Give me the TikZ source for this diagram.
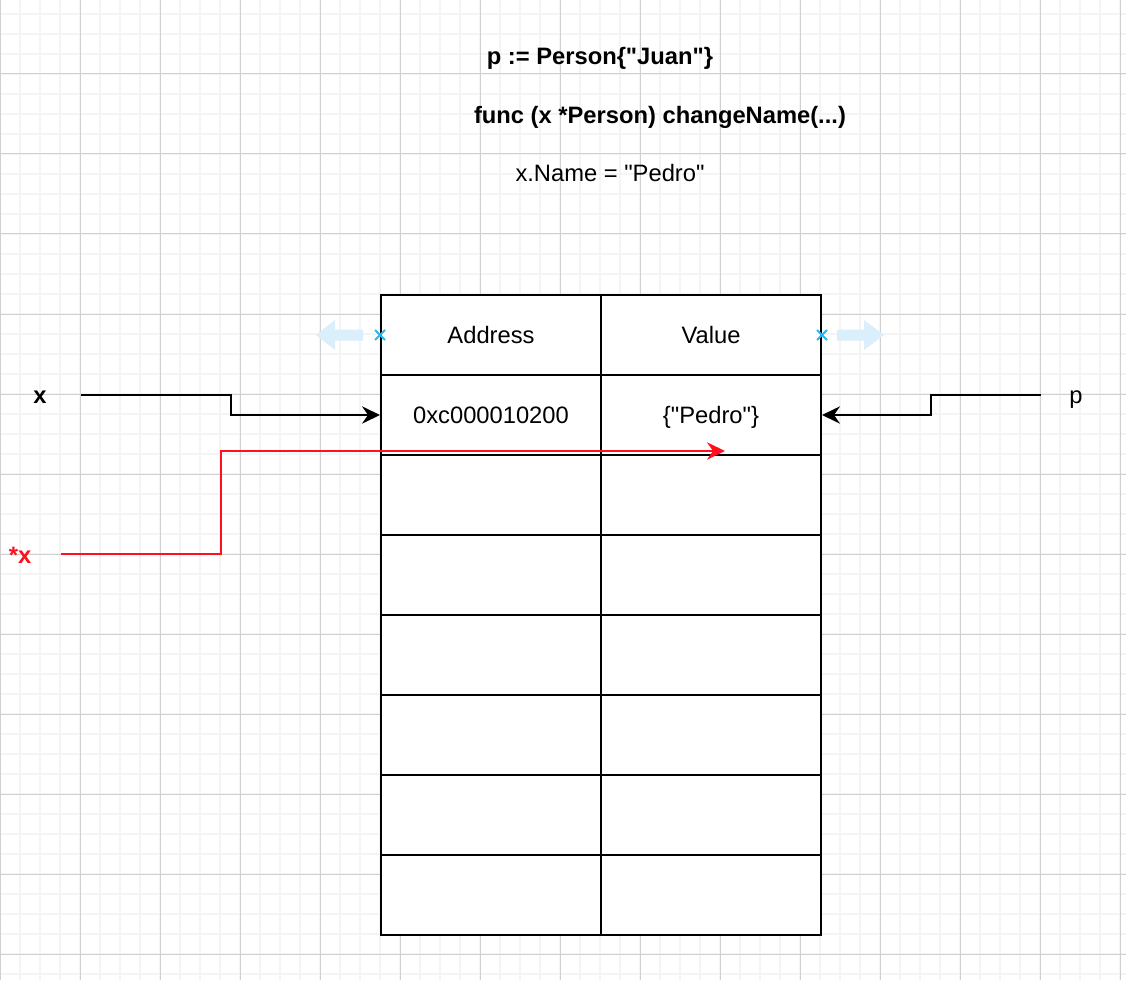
\documentclass[tikz,border=0pt]{standalone}
\usepackage{fontspec}
\setmainfont{Liberation Sans}[Ligatures=TeXOff]
\usetikzlibrary{arrows.meta}
\definecolor{gridminor}{HTML}{F4F4F4}
\definecolor{gridmajor}{HTML}{D0D0D0}
\definecolor{ptrred}{HTML}{FF1020}
\definecolor{hintblue}{HTML}{29B6F2}
\definecolor{hintfill}{HTML}{DAEEFB}
\newcommand{\diagfont}{\fontsize{17.8pt}{21pt}\selectfont}

\begin{document}
\begin{tikzpicture}[x=0.75pt,y=-0.75pt,
		cell/.style={draw, fill=white, line width=1.5pt, minimum width=165pt, minimum height=60pt,
			inner sep=0pt, font=\diagfont, text height=12.8pt, text depth=0pt},
		varlbl/.style={anchor=base, inner sep=0pt, font=\diagfont},
		conn/.style={line width=1.5pt, -{Stealth[length=13.5pt,width=13pt,inset=4.5pt]}},
	]
		\useasboundingbox (0,0) rectangle (1126,980);
		\fill[white] (0,0) rectangle (1126,980);
		
		% background grid
		\foreach \gx in {0,20,...,1120} \draw[gridminor, line width=1.5pt] (\gx,0) -- (\gx,980);
		\foreach \gy in {14,34,...,974} \draw[gridminor, line width=1.5pt] (0,\gy) -- (1126,\gy);
		\foreach \gx in {0,80,...,1120} \draw[gridmajor, line width=0.75pt] (\gx,0) -- (\gx,980);
		\foreach \gy in {74,154,...,954} \draw[gridmajor, line width=0.75pt] (0,\gy) -- (1126,\gy);
		
		% code lines
		\node[varlbl, font=\diagfont\bfseries] (decl) at (600,65) {p := Person\{"Juan"\}};
		\node[varlbl, font=\diagfont\bfseries] (method) at (660,124) {func (x *Person) changeName(...)};
		\node[varlbl] (assign) at (610,182) {x.Name = "Pedro"};
		
		% memory table
		\node[cell] (addr) at (491,335) {Address};
		\node[cell] (val) at (711,335) {Value};
		\node[cell] (addr1) at (491,415) {0xc000010200};
		\node[cell] (val1) at (711,415) {\{"Pedro"\}};
		\foreach \row in {2,...,7} {
			\node[cell] (addr\row) at (491,335+80*\row) {};
			\node[cell] (val\row) at (711,335+80*\row) {};
		}
		
		% selection hints (drawn faintly)
		\fill[hintfill] (316,335) -- (335,320) -- (335,329.5) -- (363,329.5) -- (363,340.5)
			-- (335,340.5) -- (335,350) -- cycle;
		\fill[hintfill] (884,335) -- (864,320) -- (864,329.5) -- (837,329.5) -- (837,340.5)
			-- (864,340.5) -- (864,350) -- cycle;
		\draw[hintblue, line width=1.5pt] (addr.west) +(-5,-5) -- +(5,5) +(-5,5) -- +(5,-5);
		\draw[hintblue, line width=1.5pt] (val.east) +(-5,-5) -- +(5,5) +(-5,5) -- +(5,-5);
		
		% variables
		\node[varlbl, font=\diagfont\bfseries] (xvar) at (40,403) {x};
		\node[varlbl] (pvar) at (1076,403) {p};
		\node[varlbl, font=\diagfont\bfseries, text=ptrred] (deref) at (20,563) {*x};
		
		% pointers
		\coordinate (xstart) at (81,395);
		\coordinate (pstart) at (1041,395);
		\coordinate (dstart) at (61,554);
		\coordinate (dend) at (725,451);
		\draw[conn] (xstart) -- ++(150,0) |- (addr1.west);
		\draw[conn] (pstart) -- ++(-110,0) |- (val1.east);
		\draw[conn, ptrred] (dstart) -- ++(160,0) |- (dend);
	\end{tikzpicture}
\end{document}
